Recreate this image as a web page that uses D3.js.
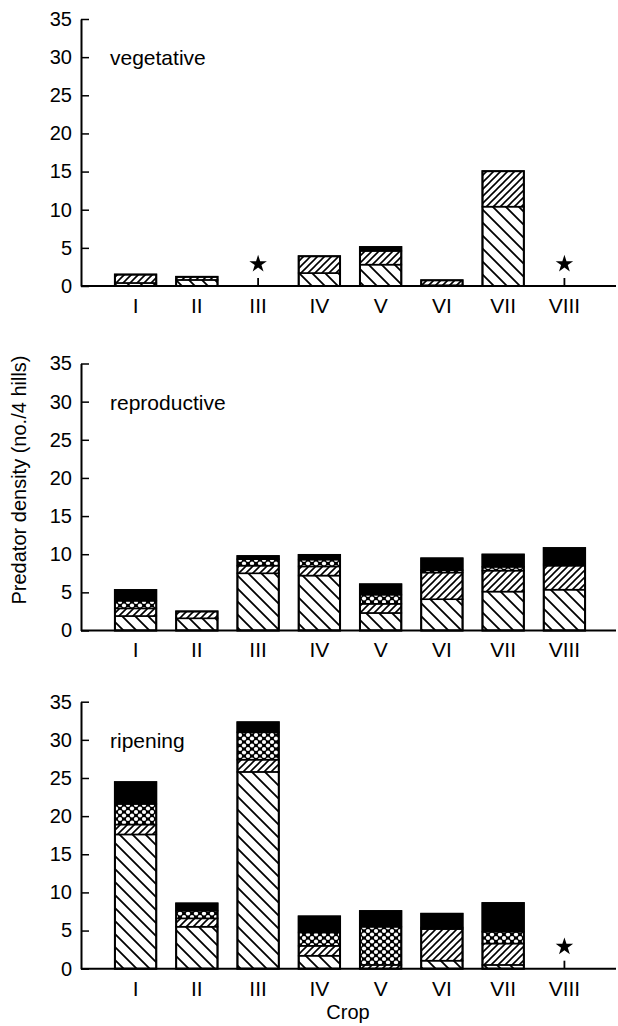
<!DOCTYPE html>
<html>
<head>
<meta charset="utf-8">
<script src="https://cdn.jsdelivr.net/npm/d3@7"></script>
<style>
  body { margin: 0; background: #fff; }
  text { font-family: "Liberation Sans", Arial, sans-serif; fill: #000; }
</style>
</head>
<body>
<div id="chart"></div>
<script>
// chart data
let crops = ["I", "II", "III", "IV", "V", "VI", "VII", "VIII"];
let stages = ["vegetative", "reproductive", "ripening"];
let groups = ["groupA", "groupB", "groupC", "groupD"];
let yTicks = [0, 5, 10, 15, 20, 25, 30, 35];

// null = not sampled (marked with *)
let vegA = [0.4, 0.8, null, 1.7, 2.8, 0.1, 10.4, null];
let vegB = [1.1, 0.4, null, 2.2, 1.8, 0.65, 4.65, null];
let vegC = [0, 0, null, 0, 0, 0, 0, null];
let vegD = [0, 0, null, 0, 0.5, 0, 0, null];

let repA = [1.9, 1.6, 7.5, 7.2, 2.3, 4.1, 5.1, 5.35];
let repB = [1.0, 0.9, 1.0, 1.2, 1.2, 3.5, 2.75, 3.15];
let repC = [1.0, 0, 0.85, 0.9, 1.2, 0.3, 0.5, 0.2];
let repD = [1.4, 0, 0.4, 0.6, 1.35, 1.55, 1.6, 2.1];

let ripA = [17.6, 5.5, 25.8, 1.7, 0, 1.05, 0.5, null];
let ripB = [1.3, 1.1, 1.6, 1.3, 0.5, 4.15, 2.8, null];
let ripC = [2.7, 1.0, 3.6, 1.75, 5.0, 0.2, 1.55, null];
let ripD = [2.85, 0.95, 1.3, 2.1, 2.05, 1.8, 3.75, null];

let panelData = [
    [vegA, vegB, vegC, vegD],
    [repA, repB, repC, repD],
    [ripA, ripB, ripC, ripD]
];

// layout
let width = 618;
let height = 1026;
let axisX = 81;
let panelTops = [19, 363.5, 701.7];
let panelHeight = 267;

let svg = d3.select("#chart").append("svg").attr("width", width).attr("height", height);

// hatch patterns
let defs = svg.append("defs");

let pA = defs.append("pattern").attr("id", "groupA").attr("patternUnits", "userSpaceOnUse")
    .attr("width", 13).attr("height", 13);
pA.append("rect").attr("width", 13).attr("height", 13).attr("fill", "#fff");
pA.append("path").attr("d", "M0,0 L13,13 M-2,11 L2,15 M11,-2 L15,2")
    .attr("stroke", "#000").attr("stroke-width", 1.8);

let pB = defs.append("pattern").attr("id", "groupB").attr("patternUnits", "userSpaceOnUse")
    .attr("width", 7).attr("height", 7);
pB.append("rect").attr("width", 7).attr("height", 7).attr("fill", "#fff");
pB.append("path").attr("d", "M0,7 L7,0 M-2,2 L2,-2 M5,9 L9,5")
    .attr("stroke", "#000").attr("stroke-width", 1.6);

let pC = defs.append("pattern").attr("id", "groupC").attr("patternUnits", "userSpaceOnUse")
    .attr("width", 8).attr("height", 7);
pC.append("rect").attr("width", 8).attr("height", 7).attr("fill", "#000");
[[0, 0], [8, 0], [0, 7], [8, 7], [4, 3.5]].forEach(function(p) {
    pC.append("circle").attr("cx", p[0]).attr("cy", p[1]).attr("r", 2.1).attr("fill", "#fff");
});

let fills = {groupA: "url(#groupA)", groupB: "url(#groupB)", groupC: "url(#groupC)", groupD: "#000"};

let xScale = d3.scaleBand().domain(crops).range([95, 605]).padding(0.325);

stages.forEach(function(stage, p) {
    let top = panelTops[p];
    let yScale = d3.scaleLinear().domain([0, 35]).range([top + panelHeight, top]);
    let g = svg.append("g");

    // stack the four groups for each crop
    let rows = crops.map(function(c, i) {
        let row = {crop: c, missing: panelData[p][0][i] === null};
        groups.forEach(function(k, j) { row[k] = panelData[p][j][i] || 0; });
        return row;
    });
    let stacked = d3.stack().keys(groups)(rows);

    stacked.forEach(function(layer) {
        g.selectAll(null)
            .data(layer.filter(function(d) { return d[1] - d[0] > 0; }))
            .enter()
            .append("rect")
            .attr("x", function(d) { return xScale(d.data.crop); })
            .attr("width", xScale.bandwidth())
            .attr("y", function(d) { return yScale(d[1]); })
            .attr("height", function(d) { return yScale(d[0]) - yScale(d[1]); })
            .attr("fill", fills[layer.key])
            .attr("stroke", "#000")
            .attr("stroke-width", 1.6);
    });

    // outline of whole bar
    g.selectAll(null)
        .data(rows.filter(function(d) { return !d.missing; }))
        .enter()
        .append("rect")
        .attr("x", function(d) { return xScale(d.crop); })
        .attr("width", xScale.bandwidth())
        .attr("y", function(d) { return yScale(d3.sum(groups, function(k) { return d[k]; })); })
        .attr("height", function(d) { return yScale(0) - yScale(d3.sum(groups, function(k) { return d[k]; })); })
        .attr("fill", "none")
        .attr("stroke", "#000")
        .attr("stroke-width", 2);

    // star for missing crops
    let miss = rows.filter(function(d) { return d.missing; });
    g.selectAll(null).data(miss).enter().append("line")
        .attr("x1", function(d) { return xScale(d.crop) + xScale.bandwidth() / 2; })
        .attr("x2", function(d) { return xScale(d.crop) + xScale.bandwidth() / 2; })
        .attr("y1", yScale(0)).attr("y2", yScale(0) - 8)
        .attr("stroke", "#000").attr("stroke-width", 1.8);
    g.selectAll(null).data(miss).enter().append("path")
        .attr("d", d3.symbol(d3.symbolStar, 95))
        .attr("transform", function(d) {
            return `translate(${xScale(d.crop) + xScale.bandwidth() / 2}, ${yScale(0) - 22})`;
        })
        .attr("fill", "#000");

    // y axis with inward ticks
    let yAxis = d3.axisLeft(yScale).tickValues(yTicks).tickSizeInner(-8).tickSizeOuter(0).tickPadding(9);
    let ya = g.append("g").attr("transform", `translate(${axisX}, 0)`).call(yAxis);
    ya.select(".domain").attr("stroke-width", 2);
    ya.selectAll(".tick line").attr("stroke-width", 1.5);
    ya.selectAll(".tick text").style("font-size", "20px");

    // x axis
    let xAxis = d3.axisBottom(xScale).tickSize(0).tickPadding(12);
    let xa = g.append("g").attr("transform", `translate(0, ${yScale(0)})`).call(xAxis);
    xa.select(".domain").remove();
    xa.selectAll(".tick text").style("font-size", "21px");
    g.append("line").attr("x1", axisX).attr("x2", 616)
        .attr("y1", yScale(0)).attr("y2", yScale(0))
        .attr("stroke", "#000").attr("stroke-width", 2);

    g.append("text").attr("x", 110).attr("y", yScale(30) + 8)
        .style("font-size", "21px").text(stage);
});

svg.append("text").attr("transform", "rotate(-90)").attr("x", -480).attr("y", 26)
    .attr("text-anchor", "middle").style("font-size", "20px").text("Predator density (no./4 hills)");

svg.append("text").attr("x", 348).attr("y", 1019).attr("text-anchor", "middle")
    .style("font-size", "20px").text("Crop");
</script>
</body>
</html>
